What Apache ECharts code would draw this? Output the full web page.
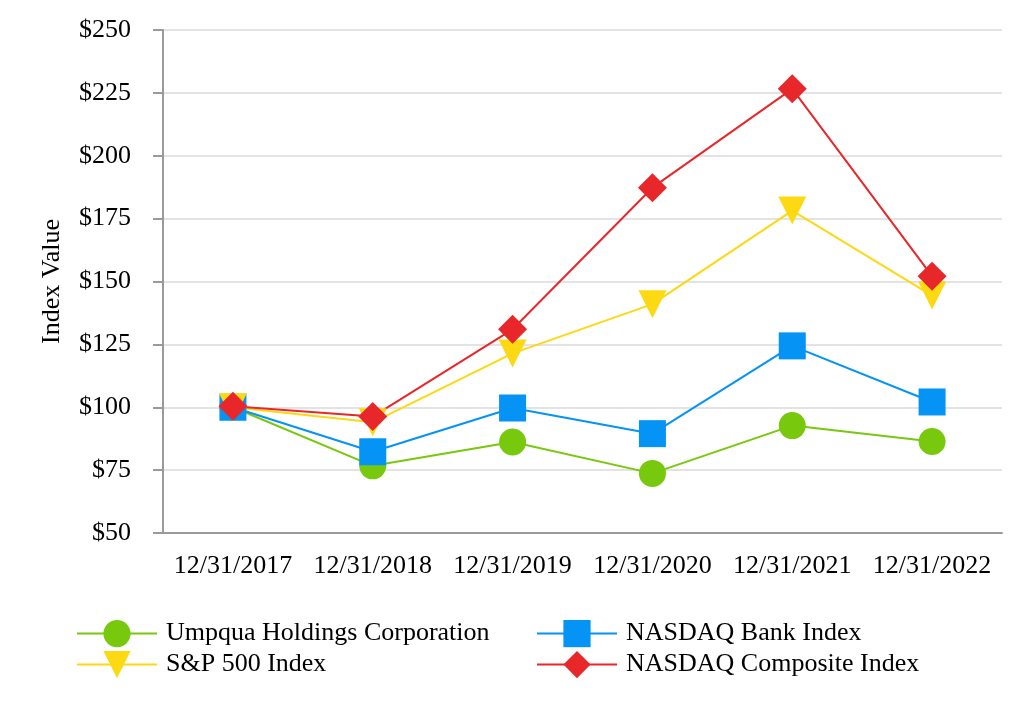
<!DOCTYPE html>
<html>
<head>
<meta charset="utf-8">
<script src="https://cdn.jsdelivr.net/npm/echarts@6/dist/echarts.min.js"></script>
<style>
html,body{margin:0;padding:0;background:#fff;}
#chart{width:1032px;height:720px;}
</style>
</head>
<body>
<div id="chart"></div>
<script>
const categories = ['12/31/2017','12/31/2018','12/31/2019','12/31/2020','12/31/2021','12/31/2022'];
const umpqua = [100, 76.7, 86.2, 73.7, 92.7, 86.4];
const nasdaqBank = [100, 82.3, 99.7, 89.5, 124.4, 102.1];
const sp500 = [100, 94, 121.4, 141, 178.2, 144.4];
const nasdaqComposite = [100.4, 96.3, 131, 187.3, 226.6, 152.1];
const seriesNames = ['Umpqua Holdings Corporation','NASDAQ Bank Index','S&P 500 Index','NASDAQ Composite Index'];

const FONT = '"Liberation Serif", "Times New Roman", serif';
const chart = echarts.init(document.getElementById('chart'), null, {renderer:'canvas'});

function mkSeries(name, data, color, symbol, rotate, size){
  return {
    name, type:'line', data,
    symbol, symbolSize:size, symbolRotate:rotate,
    lineStyle:{color, width:2},
    itemStyle:{color},
    emphasis:{disabled:true},
    animation:false
  };
}
function mkLegend(name, left, top){
  return {
    data:[name], left, top, padding:0, itemWidth:80, itemHeight:34,
    textStyle:{fontFamily:FONT, fontSize:26, color:'#000', padding:[0,0,0,4]},
    selectedMode:false
  };
}

chart.setOption({
  backgroundColor:'#fff',
  animation:false,
  grid:{left:163, right:30, top:30, bottom:187},
  legend:[
    mkLegend(seriesNames[0], 76, 620),
    mkLegend(seriesNames[2], 76, 651),
    mkLegend(seriesNames[1], 536, 620),
    mkLegend(seriesNames[3], 536, 651)
  ],
  xAxis:{
    type:'category', data:categories, boundaryGap:true,
    axisLine:{lineStyle:{color:'#9a9a9a', width:2}},
    axisTick:{alignWithLabel:true, interval:0, length:10, lineStyle:{color:'#9a9a9a', width:2}},
    axisLabel:{fontFamily:FONT, fontSize:26, color:'#000', margin:20, interval:0, hideOverlap:false}
  },
  yAxis:{
    type:'value', min:50, max:250, interval:25,
    name:'Index Value', nameLocation:'middle', nameGap:98, nameRotate:90,
    nameTextStyle:{fontFamily:FONT, fontSize:26, color:'#000'},
    axisLine:{show:true, lineStyle:{color:'#9a9a9a', width:2}},
    axisTick:{show:true, length:10, lineStyle:{color:'#9a9a9a', width:2}},
    axisLabel:{fontFamily:FONT, fontSize:26, color:'#000', margin:32, formatter:v=>'$'+v},
    splitLine:{lineStyle:{color:'#e3e3e3', width:2}}
  },
  series:[
    mkSeries(seriesNames[0], umpqua, '#78c80e', 'circle', 0, 27),
    mkSeries(seriesNames[1], nasdaqBank, '#0593f5', 'rect', 0, 27),
    mkSeries(seriesNames[2], sp500, '#fcd912', 'triangle', 180, 28),
    mkSeries(seriesNames[3], nasdaqComposite, '#e8272a', 'diamond', 0, 29)
  ]
});
</script>
</body>
</html>
